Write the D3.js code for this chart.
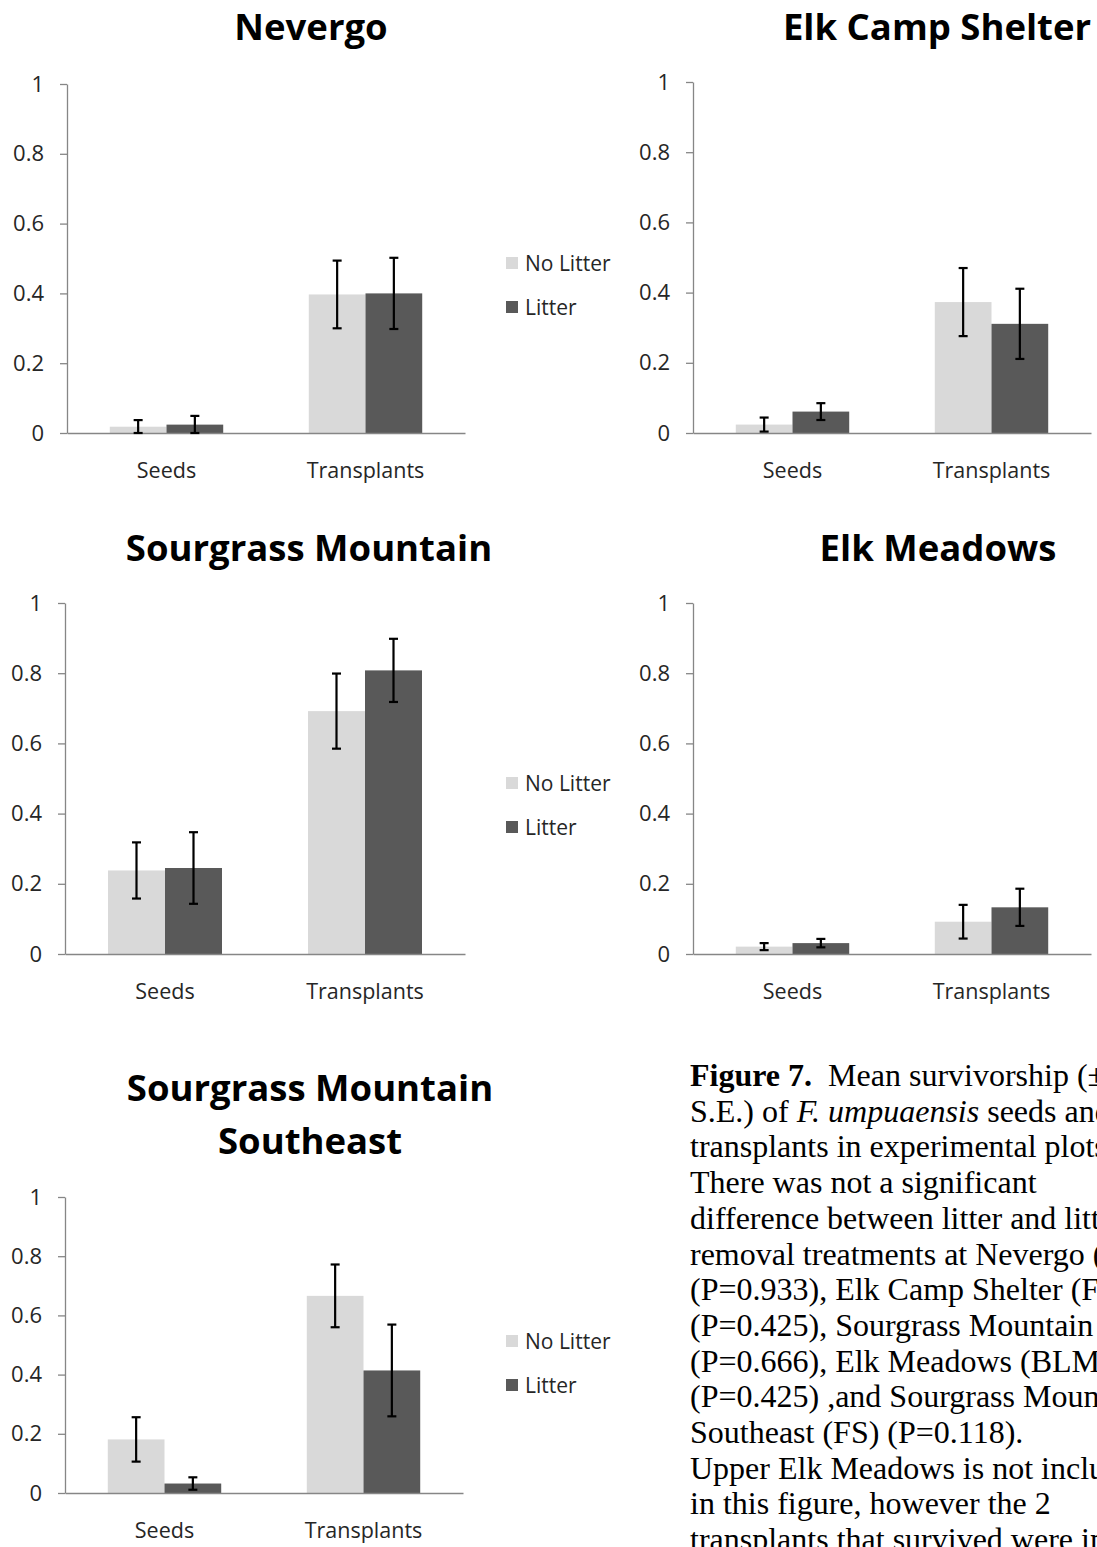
<!DOCTYPE html>
<html><head><meta charset="utf-8">
<script src="https://cdnjs.cloudflare.com/ajax/libs/d3/7.8.5/d3.min.js"></script>
<style>body{margin:0;background:#fff;overflow:hidden;} svg{display:block;}</style>
</head><body>
<svg id="fig" width="1097" height="1547"></svg>
<script>
// ---- data ----
const categories = ["Seeds", "Transplants"];
const seriesNames = ["No Litter", "Litter"];
const yTicks = [0, 0.2, 0.4, 0.6, 0.8, 1];
const siteTitles = [["Nevergo"], ["Elk Camp Shelter"], ["Sourgrass Mountain"], ["Elk Meadows"], ["Sourgrass Mountain", "Southeast"]];
const noLitterMean = [[0.018, 0.397], [0.024, 0.373], [0.238, 0.692], [0.021, 0.092], [0.181, 0.666]];
const noLitterSE   = [[0.019, 0.097], [0.020, 0.097], [0.080, 0.107], [0.010, 0.048], [0.075, 0.106]];
const litterMean   = [[0.024, 0.400], [0.061, 0.311], [0.245, 0.808], [0.031, 0.133], [0.032, 0.414]];
const litterSE     = [[0.025, 0.102], [0.024, 0.100], [0.102, 0.090], [0.012, 0.053], [0.021, 0.155]];
const captionLines = [
  [["Figure 7.", "b"], ["  Mean survivorship (± 1", ""]],
  [["S.E.) of ", ""], ["F. umpuaensis", "i"], [" seeds and", ""]],
  [["transplants in experimental plots.", ""]],
  [["There was not a significant", ""]],
  [["difference between litter and litter", ""]],
  [["removal treatments at Nevergo (BLM)", ""]],
  [["(P=0.933), Elk Camp Shelter (FS)", ""]],
  [["(P=0.425), Sourgrass Mountain (FS)", ""]],
  [["(P=0.666), Elk Meadows (BLM)", ""]],
  [["(P=0.425) ,and Sourgrass Mountain", ""]],
  [["Southeast (FS) (P=0.118).", ""]],
  [["Upper Elk Meadows is not included", ""]],
  [["in this figure, however the 2", ""]],
  [["transplants that survived were in", ""]]
];

// ---- layout ----
const panels = [
  {x0: 67,  x1: 465,  y0: 84,   y1: 433,  titleX: 311, titleY: [40],         legX: 506,  legY: 263, legend: true},
  {x0: 693, x1: 1091, y0: 82,   y1: 433,  titleX: 937, titleY: [40],         legX: 1132, legY: 263, legend: false},
  {x0: 65,  x1: 465,  y0: 603,  y1: 954,  titleX: 309, titleY: [561],        legX: 506,  legY: 783, legend: true},
  {x0: 693, x1: 1091, y0: 603,  y1: 954,  titleX: 938, titleY: [561],        legX: 1132, legY: 783, legend: false},
  {x0: 65,  x1: 463,  y0: 1197, y1: 1493, titleX: 310, titleY: [1101, 1154], legX: 506,  legY: 1341, legend: true}
];
const colors = {"No Litter": "#d9d9d9", "Litter": "#595959"};
const axisColor = "#868686";
const textColor = "#262626";
const sans = "'Open Sans', 'Noto Sans', sans-serif";

const svg = d3.select("#fig");

panels.forEach((p, i) => {
  const g = svg.append("g");
  const y = d3.scaleLinear().domain([0, 1]).range([p.y1, p.y0]);
  const x = d3.scaleBand().domain(categories).range([p.x0, p.x1]);
  const groupW = x.bandwidth() * 0.57;
  const xs = d3.scaleBand().domain(seriesNames).range([0, groupW]);

  // title
  siteTitles[i].forEach((t, k) => {
    g.append("text").attr("x", p.titleX).attr("y", p.titleY[k])
      .attr("text-anchor", "middle").attr("font-family", sans)
      .attr("font-weight", 700).attr("font-size", 36.5).attr("fill", "#000").text(t);
  });

  // bars
  const rows = [];
  categories.forEach((c, ci) => {
    rows.push({cat: c, s: "No Litter", v: noLitterMean[i][ci], e: noLitterSE[i][ci]});
    rows.push({cat: c, s: "Litter", v: litterMean[i][ci], e: litterSE[i][ci]});
  });
  const off = (x.bandwidth() - groupW) / 2;
  g.selectAll("rect.bar").data(rows).join("rect").attr("class", "bar")
    .attr("x", d => x(d.cat) + off + xs(d.s))
    .attr("width", xs.bandwidth())
    .attr("y", d => y(d.v))
    .attr("height", d => y(0) - y(d.v))
    .attr("fill", d => colors[d.s]);

  // axes
  const ya = d3.axisLeft(y).tickValues(yTicks).tickSize(7).tickSizeOuter(0).tickPadding(16)
    .tickFormat(d => String(d));
  const yg = g.append("g").attr("transform", `translate(${p.x0},0)`).call(ya);
  yg.select(".domain").attr("stroke", axisColor).attr("stroke-width", 1.3);
  yg.selectAll(".tick line").attr("stroke", axisColor).attr("stroke-width", 1.3);
  yg.selectAll(".tick text").attr("font-family", sans).attr("font-size", 22).attr("fill", textColor);

  const xa = d3.axisBottom(x).tickSize(0).tickSizeOuter(0).tickPadding(30);
  const xg = g.append("g").attr("transform", `translate(0,${p.y1})`).call(xa);
  xg.select(".domain").attr("stroke", axisColor).attr("stroke-width", 1.3);
  xg.selectAll(".tick text").attr("font-family", sans).attr("font-size", 21.5).attr("fill", textColor);

  // error bars
  const eb = g.selectAll("g.err").data(rows).join("g").attr("class", "err");
  const cx = d => x(d.cat) + off + xs(d.s) + xs.bandwidth() / 2;
  eb.append("line").attr("x1", cx).attr("x2", cx)
    .attr("y1", d => y(Math.max(0, d.v - d.e))).attr("y2", d => y(d.v + d.e))
    .attr("stroke", "#000").attr("stroke-width", 2.2);
  [d => d.v + d.e, d => Math.max(0, d.v - d.e)].forEach(f => {
    eb.append("line").attr("x1", d => cx(d) - 4.5).attr("x2", d => cx(d) + 4.5)
      .attr("y1", d => y(f(d))).attr("y2", d => y(f(d)))
      .attr("stroke", "#000").attr("stroke-width", 2.2);
  });

  // legend (the right-hand panels' legends lie beyond the page edge)
  if (p.legend) {
    const lg = g.append("g");
    seriesNames.forEach((s, k) => {
      const cy = p.legY + k * 44;
      lg.append("rect").attr("x", p.legX).attr("y", cy - 6).attr("width", 12).attr("height", 12).attr("fill", colors[s]);
      lg.append("text").attr("x", p.legX + 19).attr("y", cy).attr("dominant-baseline", "central")
        .attr("font-family", sans).attr("font-size", 21).attr("fill", textColor).text(s);
    });
  }
});

// caption
const cap = svg.append("text").attr("font-family", "'Liberation Serif', 'Times New Roman', serif")
  .attr("font-size", 32).attr("fill", "#000");
captionLines.forEach((line, li) => {
  line.forEach((seg, si) => {
    const t = cap.append("tspan").text(seg[0]).attr("xml:space", "preserve");
    if (si === 0) t.attr("x", 690).attr("y", 1086 + li * 35.7);
    if (seg[1] === "b") t.attr("font-weight", 700);
    if (seg[1] === "i") t.attr("font-style", "italic");
  });
});
cap.style("white-space", "pre");
</script>
</body></html>
